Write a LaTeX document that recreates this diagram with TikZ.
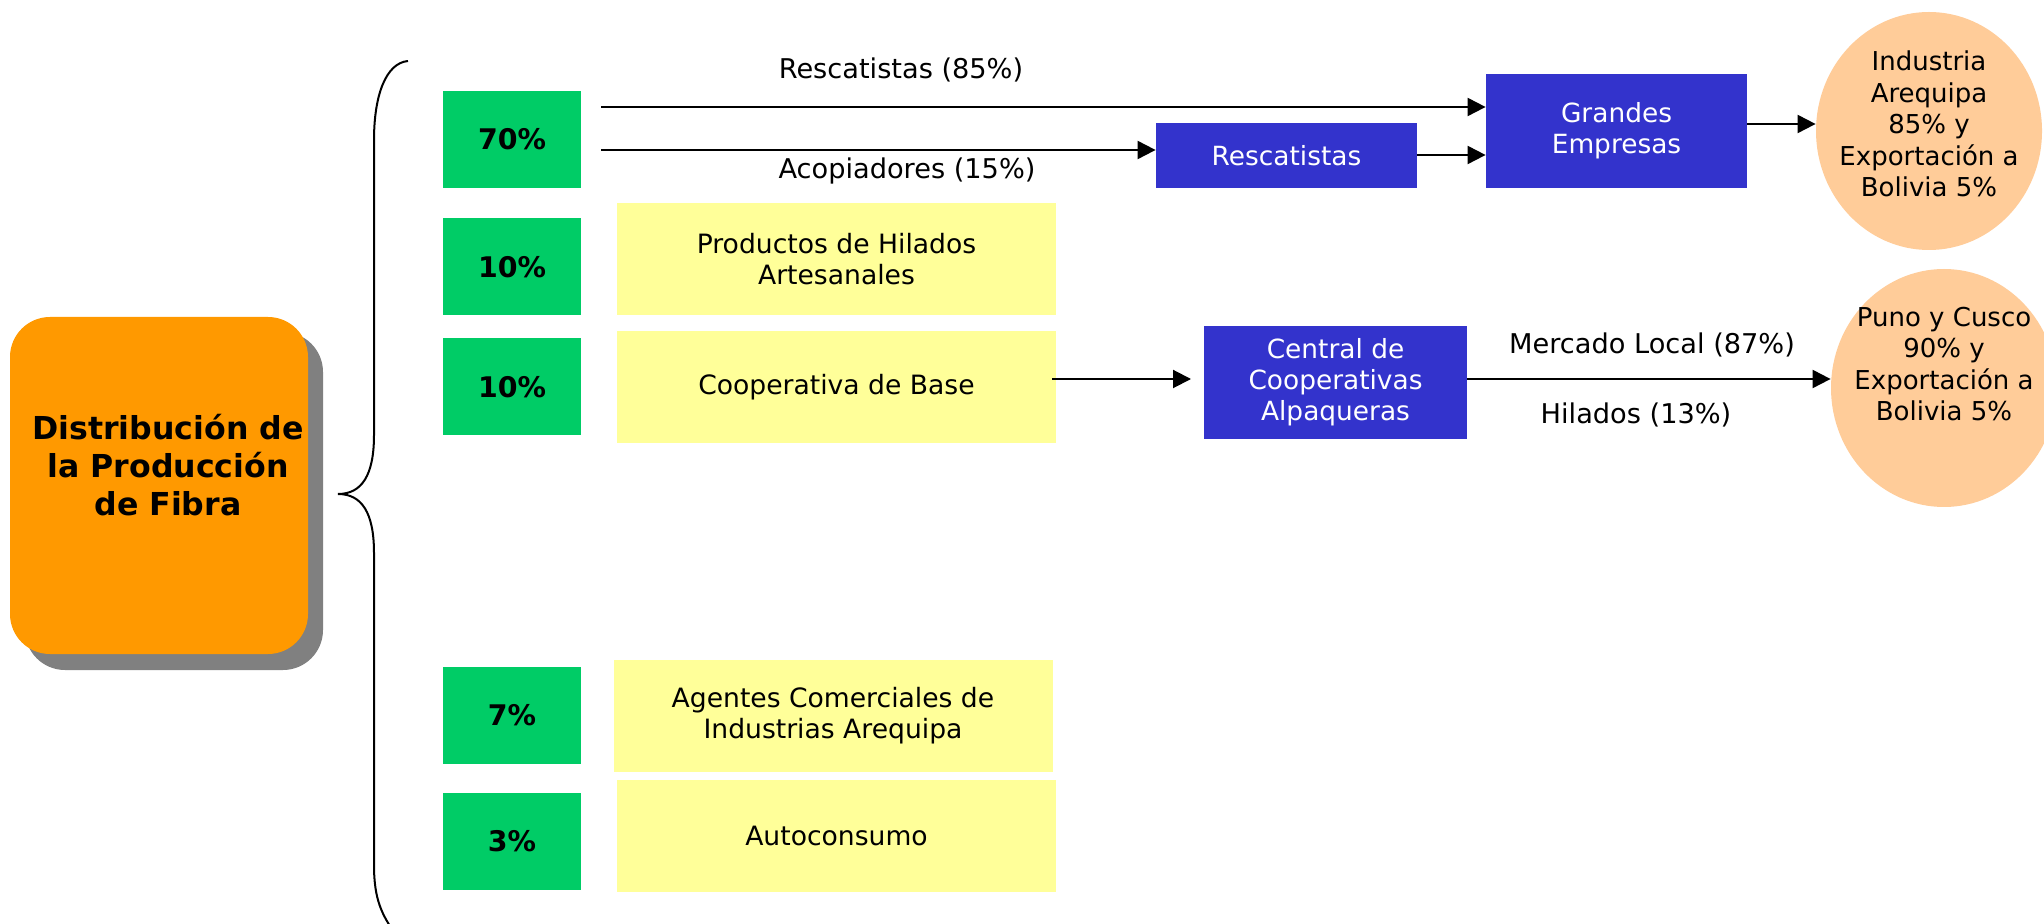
\documentclass[tikz,border=0pt]{standalone}
\usepackage{fontspec}
\setmainfont{DejaVu Sans}
\usetikzlibrary{arrows.meta,shapes.geometric}
\definecolor{pctgreen}{HTML}{00CC66}
\definecolor{ylw}{HTML}{FFFF99}
\definecolor{blu}{HTML}{3333CC}
\definecolor{orng}{HTML}{FF9900}
\definecolor{peach}{HTML}{FFCC99}
\definecolor{shadowgray}{HTML}{808080}
\begin{document}
\begin{tikzpicture}[x=0.5pt,y=-0.5pt,
  pct/.style={fill=pctgreen, minimum width=69pt, minimum height=48.5pt, inner sep=0pt, font=\bfseries\fontsize{14.2}{16}\selectfont},
  ybox/.style={fill=ylw, minimum width=219.5pt, minimum height=56pt, inner sep=0pt, align=center, font=\fontsize{13.3}{15.5}\selectfont},
  bbox/.style={fill=blu, text=white, inner sep=0pt, align=center, font=\fontsize{13.2}{15.5}\selectfont},
  oval/.style={ellipse, fill=peach, minimum width=113pt, minimum height=119pt, inner sep=0pt},
  ovaltext/.style={align=center, inner sep=0pt, font=\fontsize{13}{15.8}\selectfont},
  lbl/.style={inner sep=0pt, font=\fontsize{13.6}{15.5}\selectfont},
  arr/.style={-{Triangle[length=9pt,width=9pt]}, line width=1pt},
  brace/.style={line width=1pt}]
\useasboundingbox (0,0) rectangle (2044,924);
\clip (0,0) rectangle (2044,924);
\fill[white] (0,0) rectangle (2044,924);

% central box with shadow
\fill[shadowgray, rounded corners=20pt] (25,332) rectangle (323,670);
\node[fill=orng, rounded corners=20pt, minimum width=149pt, minimum height=168.5pt, inner sep=0pt] (main) at (159,485.5) {};
\node[align=center, inner sep=0pt, font=\bfseries\fontsize{15.8}{19}\selectfont] (title) at (168,465) {Distribución de\\la Producción\\de Fibra};

% brace
\draw[brace] (408,61) .. controls (386,63) and (374,95) .. (374,140) -- (374,435)
  .. controls (374,475) and (362,494) .. (338,494)
  .. controls (362,494) and (374,513) .. (374,553) -- (374,865)
  .. controls (374,900) and (382,915) .. (396,935);

% percentage boxes
\node[pct] (p70) at (512,139.5) {70\%};
\node[pct] (p10a) at (512,267) {10\%};
\node[pct] (p10b) at (512,387) {10\%};
\node[pct] (p7) at (512,715.5) {7\%};
\node[pct] (p3) at (512,841.5) {3\%};

% yellow boxes
\node[ybox] (prod) at (836.5,259) {Productos de Hilados\\Artesanales};
\node[ybox] (coop) at (836.5,387) {Cooperativa de Base};
\node[ybox] (agen) at (833,716) {Agentes Comerciales de\\Industrias Arequipa};
\node[ybox] (auto) at (836.5,836) {Autoconsumo};

% blue boxes
\node[bbox, minimum width=130.5pt, minimum height=32.5pt] (resc) at (1286.5,155.5) {Rescatistas};
\node[bbox, minimum width=130.5pt, minimum height=57pt] (gran) at (1616.5,131) {Grandes\\Empresas};
\node[bbox, minimum width=131.5pt, minimum height=56.5pt] (cent) at (1335.5,382.5) {Central de\\Cooperativas\\Alpaqueras};

% ellipses
\node[oval] (e1) at (1929,131) {};
\node[ovaltext] (e1t) at (1929,124) {Industria\\Arequipa\\85\% y\\Exportación a\\Bolivia 5\%};
\node[oval] (e2) at (1944,388) {};
\node[ovaltext] (e2t) at (1944,364) {Puno y Cusco\\90\% y\\Exportación a\\Bolivia 5\%};

% arrow start coordinates
\coordinate (s1) at (601,107);
\coordinate (s2) at (601,150);
\coordinate (s3) at (1052,379);

\draw[arr] (s1) -- (s1 -| gran.west);
\draw[arr] (s2) -- (s2 -| resc.west);
\draw[arr] (resc.east |- 0,155) -- (gran.west |- 0,155);
\draw[arr] (gran.east |- 0,124) -- (e1.west |- 0,124);
\draw[arr] (s3) -- (1191,379) coordinate (s3e);
\draw[arr] (cent.east |- 0,379) -- (e2.west |- 0,379);

% labels
\node[lbl] (l1) at (901,70) {Rescatistas (85\%)};
\node[lbl] (l2) at (907,171) {Acopiadores (15\%)};
\node[lbl] (l3) at (1652,345) {Mercado Local (87\%)};
\node[lbl] (l4) at (1636,415) {Hilados (13\%)};
\end{tikzpicture}
\end{document}
